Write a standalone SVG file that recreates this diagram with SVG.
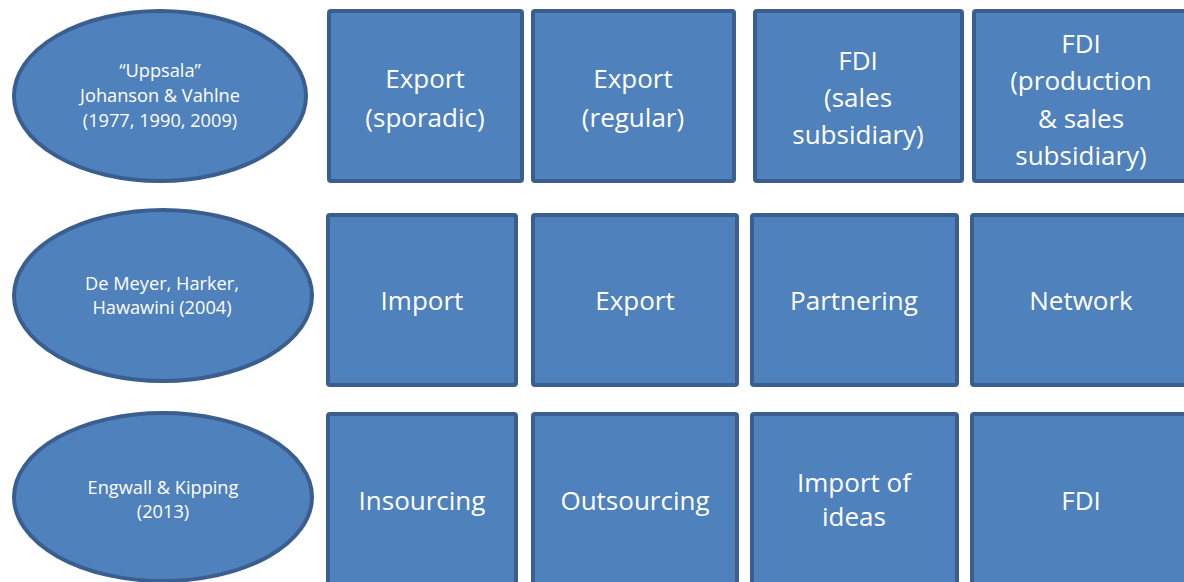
<svg xmlns="http://www.w3.org/2000/svg" width="1184" height="582" viewBox="0 0 1184 582">
<style>
.shape{fill:#4f81bd;stroke:#3a5f8e;stroke-width:4}
.big{font-family:"Open Sans","Liberation Sans",sans-serif;font-size:26px;fill:#ffffff;text-anchor:middle}
.small{font-family:"Open Sans","Liberation Sans",sans-serif;font-size:18.2px;fill:#ffffff;text-anchor:middle}
</style>
<rect width="1184" height="582" fill="#ffffff"/>
<g id="connectors"/>
<g id="e1"><ellipse class="shape" cx="160" cy="96" rx="146" ry="85"/>
<text class="small" x="160" y="77">“Uppsala”</text><text class="small" x="160" y="102">Johanson &amp; Vahlne</text><text class="small" x="160" y="127">(1977, 1990, 2009)</text></g>
<g id="e2"><ellipse class="shape" cx="163" cy="295.5" rx="149" ry="85.5"/>
<text class="small" x="162" y="290">De Meyer, Harker,</text><text class="small" x="162" y="314">Hawawini (2004)</text></g>
<g id="e3"><ellipse class="shape" cx="163" cy="497" rx="149" ry="84"/>
<text class="small" x="163" y="494">Engwall &amp; Kipping</text><text class="small" x="163" y="518">(2013)</text></g>
<g id="r1c1"><rect class="shape" x="329" y="11" width="193" height="170" rx="2"/>
<text class="big" x="425" y="88">Export</text><text class="big" x="425" y="127">(sporadic)</text></g>
<g id="r1c2"><rect class="shape" x="533" y="11" width="201" height="170" rx="2"/>
<text class="big" x="633" y="88">Export</text><text class="big" x="633" y="127">(regular)</text></g>
<g id="r1c3"><rect class="shape" x="755" y="11" width="207" height="170" rx="2"/>
<text class="big" x="858" y="70">FDI</text><text class="big" x="858" y="107">(sales</text><text class="big" x="858" y="144">subsidiary)</text></g>
<g id="r1c4"><rect class="shape" x="974" y="11" width="220" height="170" rx="2"/>
<text class="big" x="1081" y="53">FDI</text><text class="big" x="1081" y="90">(production</text><text class="big" x="1081" y="128">&amp; sales</text><text class="big" x="1081" y="165">subsidiary)</text></g>
<g id="r2c1"><rect class="shape" x="328" y="215" width="188" height="170" rx="2"/>
<text class="big" x="422" y="310">Import</text></g>
<g id="r2c2"><rect class="shape" x="533" y="215" width="204" height="170" rx="2"/>
<text class="big" x="635" y="310">Export</text></g>
<g id="r2c3"><rect class="shape" x="752" y="215" width="205" height="170" rx="2"/>
<text class="big" x="854" y="310">Partnering</text></g>
<g id="r2c4"><rect class="shape" x="972" y="215" width="222" height="170" rx="2"/>
<text class="big" x="1081" y="310">Network</text></g>
<g id="r3c1"><rect class="shape" x="328" y="414" width="188" height="200" rx="2"/>
<text class="big" x="422" y="510">Insourcing</text></g>
<g id="r3c2"><rect class="shape" x="533" y="414" width="204" height="200" rx="2"/>
<text class="big" x="635" y="510">Outsourcing</text></g>
<g id="r3c3"><rect class="shape" x="752" y="414" width="205" height="200" rx="2"/>
<text class="big" x="854" y="492">Import of</text><text class="big" x="854" y="526">ideas</text></g>
<g id="r3c4"><rect class="shape" x="972" y="414" width="222" height="200" rx="2"/>
<text class="big" x="1081" y="510">FDI</text></g>
</svg>
